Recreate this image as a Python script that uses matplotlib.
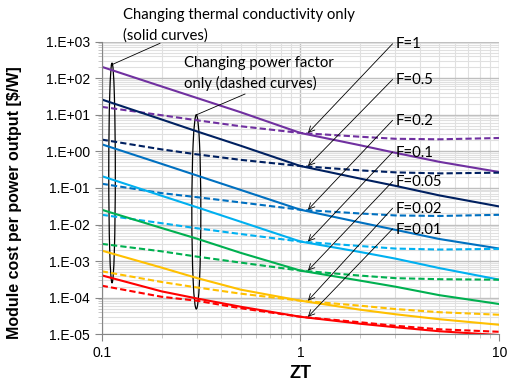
import numpy as np
import matplotlib.pyplot as plt
from matplotlib.patches import Ellipse
from matplotlib.ticker import FixedLocator, FuncFormatter, LogLocator, NullFormatter

# ZT values where the curves were read
zt = [0.1, 0.2, 0.3, 0.5, 1, 2, 3, 5, 10]

f_labels = ['F=1', 'F=0.5', 'F=0.2', 'F=0.1', 'F=0.05', 'F=0.02', 'F=0.01']
colors = ['#7030A0', '#002060', '#0070C0', '#00B0F0', '#00B050', '#FFC000', '#FF0000']

# changing thermal conductivity only (solid curves), $/W
solid_f1 = [204, 59.3, 28.9, 11.7, 3.17, 1.46, 0.91, 0.515, 0.271]
solid_f05 = [26.1, 7.43, 3.53, 1.42, 0.396, 0.179, 0.114, 0.0623, 0.0311]
solid_f02 = [1.556, 0.455, 0.220, 0.0881, 0.0253, 0.01135, 0.00716, 0.00401, 0.0022]
solid_f01 = [0.210, 0.0611, 0.0298, 0.0119, 0.00342, 0.00177, 0.00117, 0.000643, 0.000311]
solid_f005 = [0.0253, 0.00802, 0.00413, 0.00168, 0.00055, 0.000292, 0.0002, 0.000117, 0.0000671]
solid_f002 = [0.00194, 0.000664, 0.000347, 0.000166, 0.0000828, 0.0000469, 0.0000353, 0.0000258, 0.0000182]
solid_f001 = [0.000408, 0.000149, 0.0000957, 0.0000566, 0.0000301, 0.0000194, 0.0000156, 0.0000121, 0.0000095]

# changing power factor only (dashed curves), $/W
dash_f1 = [16.4, 9.69, 7.07, 4.84, 3.17, 2.50, 2.20, 2.13, 2.31]
dash_f05 = [2.09, 1.13, 0.828, 0.585, 0.396, 0.301, 0.266, 0.249, 0.261]
dash_f02 = [0.130, 0.0721, 0.056, 0.0401, 0.0253, 0.020, 0.0177, 0.0171, 0.0184]
dash_f01 = [0.01845, 0.01086, 0.00792, 0.00549, 0.00342, 0.00258, 0.0022, 0.00207, 0.00216]
dash_f005 = [0.00296, 0.00185, 0.00133, 0.00091, 0.00055, 0.000401, 0.000342, 0.00032, 0.00031]
dash_f002 = [0.000526, 0.000269, 0.000191, 0.000129, 0.0000828, 0.0000604, 0.000049, 0.0000401, 0.0000342]
dash_f001 = [0.000213, 0.000106, 0.0000828, 0.0000515, 0.0000301, 0.0000213, 0.0000171, 0.0000137, 0.0000117]

solid = [solid_f1, solid_f05, solid_f02, solid_f01, solid_f005, solid_f002, solid_f001]
dashed = [dash_f1, dash_f05, dash_f02, dash_f01, dash_f005, dash_f002, dash_f001]

# label positions (y of each F= text, ZT of arrow tip)
label_y = [838, 88, 6.8, 0.92, 0.144, 0.027, 0.0073]
label_x = 3.0
arrow_x = 1.09

fig = plt.figure(figsize=(5.07, 3.81), dpi=100)
ax = fig.add_axes([0.2006, 0.1226, 0.7842, 0.7684])

for s, d, c in zip(solid, dashed, colors):
    ax.plot(zt, s, color=c, lw=1.5, solid_capstyle='butt')
    ax.plot(zt, d, color=c, lw=1.5, dashes=(3, 1.5))

ax.set_xscale('log')
ax.set_yscale('log')
ax.set_xlim(0.1, 10)
ax.set_ylim(1e-5, 1e3)

ax.xaxis.set_major_locator(FixedLocator([0.1, 1, 10]))
ax.xaxis.set_major_formatter(FuncFormatter(lambda v, p: '%g' % v))
ax.xaxis.set_minor_locator(LogLocator(base=10, subs=np.arange(2, 10)))
ax.xaxis.set_minor_formatter(NullFormatter())
ax.yaxis.set_major_locator(LogLocator(base=10, numticks=20))
ax.yaxis.set_major_formatter(FuncFormatter(lambda v, p: '1.E%+03d' % round(np.log10(v))))
ax.yaxis.set_minor_locator(LogLocator(base=10, subs=np.arange(2, 10), numticks=20))
ax.yaxis.set_minor_formatter(NullFormatter())

ax.grid(which='major', color='#BFBFBF', lw=1.0)
ax.grid(which='minor', color='#E0E0E0', lw=0.8)
ax.set_axisbelow(True)
for side in ['top', 'right']:
    ax.spines[side].set_visible(False)
for side in ['left', 'bottom']:
    ax.spines[side].set_color('#868686')
ax.tick_params(which='major', direction='out', length=5, color='#868686',
               labelsize=10, labelcolor='black')
ax.tick_params(which='minor', direction='out', length=3, color='#BFBFBF')
for lbl in ax.get_xticklabels() + ax.get_yticklabels():
    lbl.set_fontfamily('Liberation Sans')

ax.set_xlabel('ZT', fontsize=13, fontweight='bold', family='Liberation Sans')
ax.xaxis.set_label_coords(0.5, -0.104)
ax.set_ylabel('Module cost per power output [$/W]', fontsize=11.5,
              fontweight='bold', family='Liberation Sans')
ax.yaxis.set_label_coords(-0.2, 0.45)

note_font = dict(family='Lato', fontsize=10.7, color='black')

# F labels with arrows to the crossing points at ZT=1
for i, lab in enumerate(f_labels):
    ax.annotate(lab, xy=(arrow_x, solid[i][4]), xytext=(label_x, label_y[i]),
                ha='left', va='center', **note_font,
                arrowprops=dict(arrowstyle='->', lw=0.6, color='black',
                                shrinkA=0, shrinkB=0, relpos=(0, 0.75)))

# ellipses grouping the curves
ax.add_patch(Ellipse((0.026, 0.551), 0.0165, 0.751, transform=ax.transAxes,
                     fill=False, ec='black', lw=0.9, clip_on=False))
ax.add_patch(Ellipse((0.238, 0.418), 0.0226, 0.663, transform=ax.transAxes,
                     fill=False, ec='black', lw=0.9, clip_on=False))

ax.text(0.0536, 1.0905, 'Changing thermal conductivity only', transform=ax.transAxes,
        ha='left', va='center', clip_on=False, **note_font)
ax.text(0.0536, 1.022, '(solid curves)', transform=ax.transAxes,
        ha='left', va='center', clip_on=False, **note_font)
ax.text(0.207, 0.9266, 'Changing power factor', transform=ax.transAxes,
        ha='left', va='center', **note_font)
ax.text(0.207, 0.8583, 'only (dashed curves)', transform=ax.transAxes,
        ha='left', va='center', **note_font)
ax.plot([0.0236, 0.1466], [0.9197, 0.9939], color='black', lw=0.6,
        transform=ax.transAxes, clip_on=False)
ax.plot([0.2372, 0.3604], [0.749, 0.8207], color='black', lw=0.6,
        transform=ax.transAxes)

fig.savefig('out.png', dpi=100)
